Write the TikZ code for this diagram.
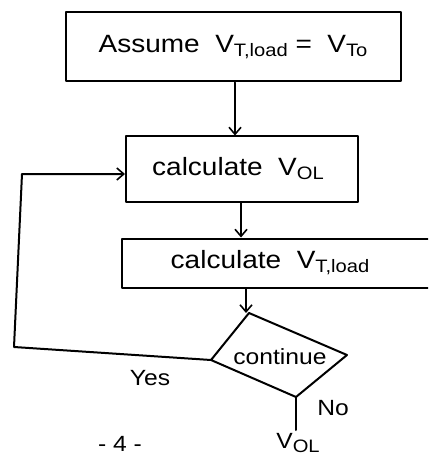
\documentclass[tikz,border=0pt]{standalone}
\usepackage{fontspec}
\setmainfont[FakeStretch=1.12]{Liberation Sans}
\usetikzlibrary{arrows.meta}
\newcommand{\mysub}[1]{\raisebox{-4pt}{\fontsize{18}{18}\selectfont #1}}
\begin{document}
\begin{tikzpicture}[x=1pt,y=-1pt,
  ink/.style={line width=2pt, line cap=round, line join=round},
  box/.style={ink, draw, rectangle, inner sep=0pt},
  arr/.style={ink, -{Straight Barb[length=7pt,width=12pt,line width=1.6pt]}},
  txt/.style={font=\fontsize{25}{28}\selectfont},
  lbl/.style={font=\fontsize{22}{24}\selectfont, inner sep=0pt}]
\useasboundingbox (0,0) rectangle (428,457);
\clip (0,0) rectangle (428,457);
\node[box, txt, minimum width=335pt, minimum height=69pt] (b1) at (233,47) {Assume\ \ V\mysub{T,load} = \ V\mysub{To}};
\node[box, txt, minimum width=232pt, minimum height=65pt] (b2) at (242,169) {calculate\ \ V\mysub{OL}\hspace*{8pt}};
\node[box, txt, minimum width=318pt, minimum height=49pt] (b3) at (281,263) {\hspace*{-10pt}calculate\ \ V\mysub{T,load}\hspace*{12pt}};
\coordinate (dt) at (249,313);
\coordinate (dr) at (347,355);
\coordinate (db) at (296,397);
\coordinate (dl) at (211,360);
\draw[ink] (dt) -- (dr) -- (db) -- (dl) -- cycle;
\node[lbl] (d) at (280,357) {continue};
\coordinate (c1) at (14,347);
\coordinate (c2) at (22,174);
\coordinate (out) at (296,430);
\draw[arr] (b1.south -| 235,0) -- (b2.north -| 235,0);
\draw[arr] (b2.south -| 241,0) -- (b3.north -| 241,0);
\draw[arr] (b3.south -| 246,0) -- (dt -| 246,0);
\draw[arr] (dl) -- (c1) -- (c2) -- (b2.west |- c2);
\draw[ink] (db) -- (out);
\node[lbl] (yes) at (150,378) {Yes};
\node[lbl] (no) at (333,408) {No};
\node[lbl] (vol) at (298,443) {V\mysub{OL}};
\node[lbl] (page) at (120,444) {- 4 -};
\end{tikzpicture}
\end{document}
